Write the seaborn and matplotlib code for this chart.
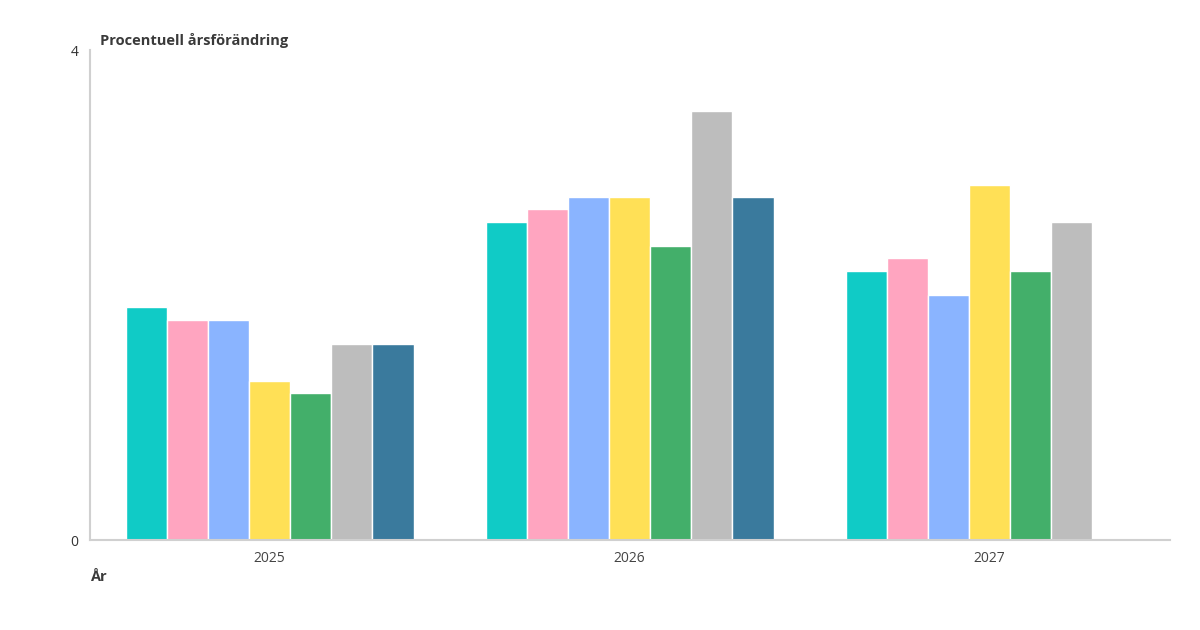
import numpy as np
import pandas as pd
import matplotlib
matplotlib.use('Agg')
import matplotlib.pyplot as plt
import seaborn as sns

# Values (percent change per year)
years = ['2025', '2026', '2027']
series = ['Serie 1', 'Serie 2', 'Serie 3', 'Serie 4', 'Serie 5', 'Serie 6', 'Serie 7']
serie_1 = [1.9, 2.6, 2.2]
serie_2 = [1.8, 2.7, 2.3]
serie_3 = [1.8, 2.8, 2.0]
serie_4 = [1.3, 2.8, 2.9]
serie_5 = [1.2, 2.4, 2.2]
serie_6 = [1.6, 3.5, 2.6]
serie_7 = [1.6, 2.8, np.nan]
colors = ['#10cbc6', '#ffa5c0', '#8ab4ff', '#ffe056', '#43af6a', '#bdbdbd', '#3a7a9d']

values = [serie_1, serie_2, serie_3, serie_4, serie_5, serie_6, serie_7]
rows = []
for name, vals in zip(series, values):
    for yr, v in zip(years, vals):
        rows.append({'År': yr, 'Serie': name, 'Värde': v})
df = pd.DataFrame(rows)

sns.set_style('white')
plt.rcParams['font.family'] = ['Open Sans', 'DejaVu Sans']

fig = plt.figure(figsize=(12, 6.3), dpi=100)
ax = fig.add_axes([89.5 / 1200, 1 - 540 / 630, 1080 / 1200, 490 / 630])

sns.barplot(data=df, x='År', y='Värde', hue='Serie', order=years, hue_order=series,
            palette=colors, width=0.8, edgecolor='white', linewidth=1,
            saturation=1, legend=False, ax=ax)

ax.set_xlim(-0.5, 2.5)
ax.set_ylim(0, 4)
ax.set_yticks([0, 4])
ax.set_yticklabels(['0', '4'], fontsize=10, color='#333333')
ax.tick_params(axis='x', labelsize=10, colors='#444444', length=0, pad=8)
ax.tick_params(axis='y', length=0, pad=8)
ax.set_xlabel('')
ax.set_ylabel('')

for side in ['top', 'right']:
    ax.spines[side].set_visible(False)
for side in ['left', 'bottom']:
    ax.spines[side].set_color('#d0d0d0')
    ax.spines[side].set_linewidth(1.5)

fig.text(100 / 1200, 1 - 40 / 630, 'Procentuell årsförändring', fontsize=10.5,
         fontweight='bold', color='#3a3a3a', va='center', ha='left')
fig.text(90 / 1200, 1 - 577 / 630, 'År', fontsize=10.5,
         fontweight='bold', color='#3a3a3a', va='center', ha='left')

fig.savefig('out.png', dpi=100)
